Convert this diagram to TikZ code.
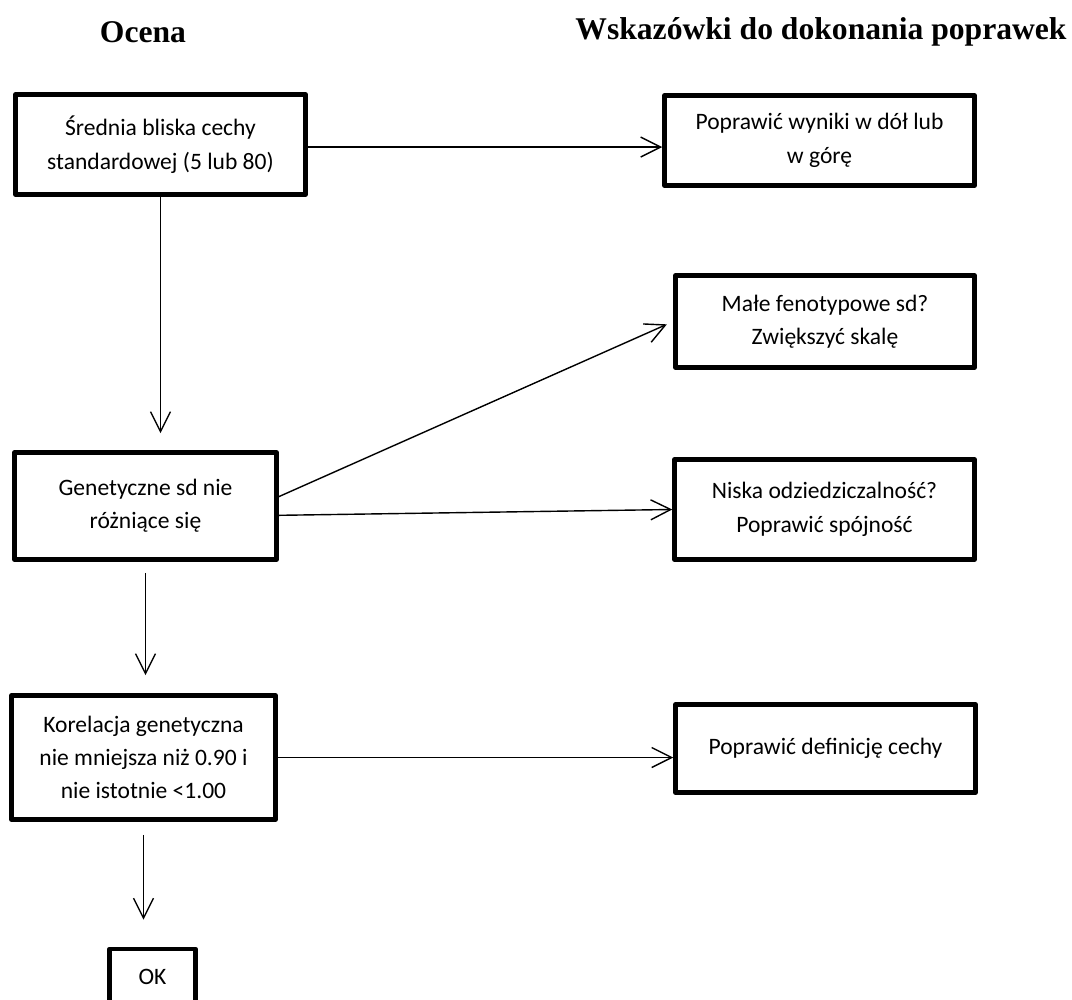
\documentclass[tikz,border=0pt]{standalone}
\usepackage{fontspec}
\setmainfont{Carlito}
\newfontfamily\headfont{Liberation Serif}
\usetikzlibrary{arrows.meta}
\begin{document}
\begin{tikzpicture}[
    x=0.02cm, y=-0.02cm,
    box/.style={draw=black, line width=2.6pt, line join=round, align=center, inner sep=2pt, font=\fontsize{13.4}{19}\selectfont},
    flow/.style={-{Straight Barb[length=0.4cm, width=0.4cm]}, line width=0.8pt},
    head/.style={font=\headfont\bfseries\fontsize{18}{22}\selectfont}
]
    \useasboundingbox (0,0) rectangle (1072,1000);

    % Headers
    \node[head] (ocena) at (143,32) {Ocena};
    \node[head] (wskazowki) at (821,32) {Wskazówki do dokonania poprawek};

    % Assessment boxes
    \node[box, minimum width=5.8cm, minimum height=2.0cm] (srednia) at (160.5,144.5) {Średnia bliska cechy\\standardowej (5 lub 80)};
    \node[box, minimum width=5.24cm, minimum height=2.14cm] (genetyczne) at (145.5,506) {Genetyczne sd nie\\różniące się};
    \node[box, minimum width=5.28cm, minimum height=2.48cm] (korelacja) at (143.5,757.5) {Korelacja genetyczna\\nie mniejsza niż 0.90 i\\nie istotnie <1.00};
    \node[box, minimum width=1.72cm, minimum height=1.12cm] (ok) at (152.5,977) {OK};

    % Hint boxes
    \node[box, minimum width=6.2cm, minimum height=1.8cm] (wyniki) at (819.5,140.5) {Poprawić wyniki w dół lub\\w górę};
    \node[box, minimum width=5.98cm, minimum height=1.84cm] (skala) at (825,321.5) {Małe fenotypowe sd?\\Zwiększyć skalę};
    \node[box, minimum width=6.0cm, minimum height=2.0cm] (spojnosc) at (824.5,509.5) {Niska odziedziczalność?\\Poprawić spójność};
    \node[box, minimum width=6.0cm, minimum height=1.76cm] (definicja) at (825.5,748.5) {Poprawić definicję cechy};

    % Arrows down
    \draw[flow, shorten >=0.34cm] (srednia.south) -- (srednia.south |- genetyczne.north);
    \draw[flow, shorten <=0.22cm, shorten >=0.36cm] (genetyczne.south) -- (genetyczne.south |- korelacja.north);
    \draw[flow, shorten <=0.26cm, shorten >=0.54cm] (korelacja.south) -- (korelacja.south |- ok.north);

    % Arrows right
    \draw[flow] (srednia.-1.5) -- (srednia.-1.5 -| wyniki.west);
    \draw[flow, shorten >=0.14cm] (genetyczne.4) -- (skala.west);
    \draw[flow] (genetyczne.-4) -- (spojnosc.west);
    \draw[flow] (korelacja.east) -- (korelacja.east -| definicja.west);
\end{tikzpicture}
\end{document}
